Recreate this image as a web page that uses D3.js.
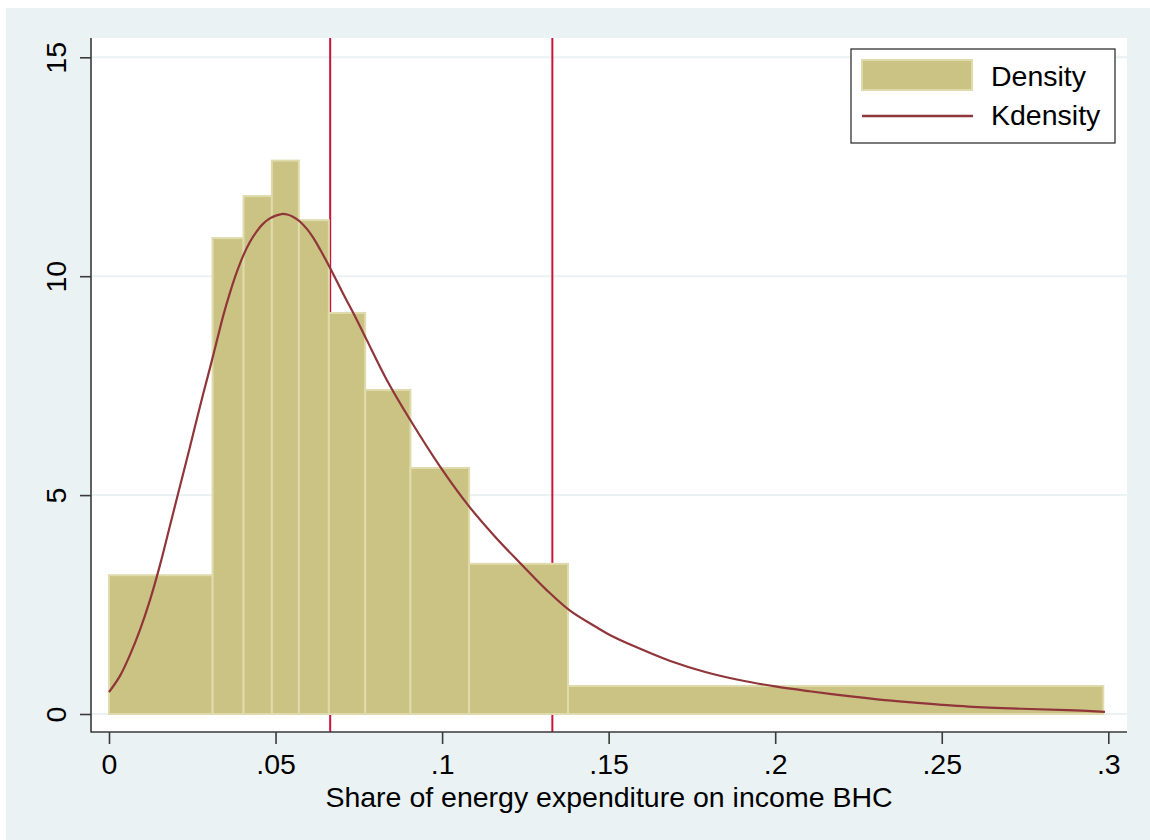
<!DOCTYPE html>
<html>
<head>
<meta charset="utf-8">
<script src="https://cdn.jsdelivr.net/npm/d3@7/dist/d3.min.js"></script>
<style>
  html, body { margin: 0; padding: 0; background: #ffffff; }
  svg { display: block; font-family: "Liberation Sans", Arial, sans-serif; }
</style>
</head>
<body>
<svg id="chart" width="1150" height="840"></svg>
<script>
// ---- Data ----
const binEdges = [0, 0.0311, 0.0404, 0.0489, 0.0570, 0.0660, 0.0769, 0.0905, 0.1081, 0.1378, 0.2985];
const binDensity = [3.17, 10.87, 11.83, 12.64, 11.28, 9.16, 7.40, 5.62, 3.43, 0.64];

const kdX = [0, 0.0033, 0.0063, 0.0093, 0.0123, 0.0153, 0.0183, 0.0213, 0.0243, 0.0273, 0.0303, 0.0323,
             0.0343, 0.0363, 0.0383, 0.0403, 0.0423, 0.0443, 0.0463, 0.0483, 0.0503, 0.0518, 0.0535,
             0.0552, 0.0573, 0.0594, 0.0613, 0.0633, 0.0663, 0.0703, 0.0744, 0.0774, 0.0834, 0.0904,
             0.0994, 0.1078, 0.1159, 0.1234, 0.1314, 0.1384, 0.1464, 0.1505, 0.1579, 0.1685, 0.1790,
             0.1896, 0.2000, 0.2103, 0.2208, 0.2313, 0.2418, 0.2500, 0.2580, 0.2740, 0.2877, 0.2990];
const kdY = [0.50, 0.87, 1.35, 1.92, 2.60, 3.40, 4.30, 5.20, 6.10, 7.02, 7.90, 8.50,
             9.10, 9.62, 10.08, 10.47, 10.78, 11.02, 11.20, 11.32, 11.39, 11.42, 11.41,
             11.36, 11.25, 11.08, 10.88, 10.62, 10.20, 9.60, 9.00, 8.54, 7.63, 6.72,
             5.65, 4.77, 4.05, 3.45, 2.83, 2.36, 1.98, 1.80, 1.54, 1.21, 0.96,
             0.77, 0.63, 0.52, 0.42, 0.33, 0.26, 0.21, 0.17, 0.12, 0.09, 0.05];

const refLines = [0.0664, 0.1331];

const xTicks = [0, 0.05, 0.1, 0.15, 0.2, 0.25, 0.3];
const xTickLabels = ["0", ".05", ".1", ".15", ".2", ".25", ".3"];
const yTicks = [0, 5, 10, 15];
const yTickLabels = ["0", "5", "10", "15"];
const legendLabels = ["Density", "Kdensity"];
const xTitle = "Share of energy expenditure on income BHC";

// ---- Styles ----
const bgColor = "#eaf2f3";
const barFill = "#cac383";
const barStroke = "#dfdbac";
const curveColor = "#903539";
const refColor = "#c8143c";
const axisColor = "#3a3a3a";
const fontSize = 28.5;

const svg = d3.select("#chart");
const plot = { left: 91, right: 1127, top: 38, bottom: 732 };

const x = d3.scaleLinear().domain([0, 0.3]).range([109, 1108.3]);
const y = d3.scaleLinear().domain([0, 15]).range([714, 57.3]);

// background
svg.append("rect").attr("x", 6).attr("y", 8).attr("width", 1150 - 6).attr("height", 840 - 8).attr("fill", bgColor);
svg.append("rect").attr("x", plot.left).attr("y", plot.top)
  .attr("width", plot.right - plot.left).attr("height", plot.bottom - plot.top).attr("fill", "#ffffff");

// grid
svg.append("g").selectAll("line").data(yTicks).join("line")
  .attr("x1", plot.left).attr("x2", plot.right)
  .attr("y1", d => y(d)).attr("y2", d => y(d))
  .attr("stroke", bgColor).attr("stroke-width", 2);

// reference lines
svg.append("g").selectAll("line").data(refLines).join("line")
  .attr("x1", d => x(d)).attr("x2", d => x(d))
  .attr("y1", plot.top).attr("y2", plot.bottom)
  .attr("stroke", refColor).attr("stroke-width", 2);

// bars
const bins = binDensity.map((v, i) => ({ x0: binEdges[i], x1: binEdges[i + 1], v }));
svg.append("g").selectAll("rect").data(bins).join("rect")
  .attr("x", d => x(d.x0))
  .attr("y", d => y(d.v))
  .attr("width", d => x(d.x1) - x(d.x0))
  .attr("height", d => y(0) - y(d.v))
  .attr("fill", barFill)
  .attr("stroke", barStroke)
  .attr("stroke-width", 2);

// kdensity curve
const kd = kdX.map((v, i) => [v, kdY[i]]);
svg.append("path").datum(kd)
  .attr("d", d3.line().x(d => x(d[0])).y(d => y(d[1])).curve(d3.curveCatmullRom))
  .attr("fill", "none").attr("stroke", curveColor).attr("stroke-width", 2.2);

// axes lines
svg.append("line").attr("x1", plot.left).attr("x2", plot.left).attr("y1", plot.top).attr("y2", plot.bottom + 0.5)
  .attr("stroke", axisColor).attr("stroke-width", 1.6);
svg.append("line").attr("x1", plot.left).attr("x2", plot.right).attr("y1", plot.bottom).attr("y2", plot.bottom)
  .attr("stroke", axisColor).attr("stroke-width", 1.6);

// x axis
const xAxis = svg.append("g").attr("transform", `translate(0,${plot.bottom})`)
  .call(d3.axisBottom(x).tickValues(xTicks).tickFormat((d, i) => xTickLabels[i]).tickSize(12).tickSizeOuter(0));
xAxis.select(".domain").remove();
xAxis.selectAll(".tick line").attr("stroke", axisColor).attr("stroke-width", 1.6);
xAxis.selectAll(".tick text").attr("y", 42).attr("dy", null)
  .attr("font-size", fontSize).attr("font-family", "Liberation Sans, Arial, sans-serif").attr("fill", "#000");

// y axis
const yAxis = svg.append("g").attr("transform", `translate(${plot.left},0)`)
  .call(d3.axisLeft(y).tickValues(yTicks).tickFormat((d, i) => yTickLabels[i]).tickSize(11).tickSizeOuter(0));
yAxis.select(".domain").remove();
yAxis.selectAll(".tick line").attr("stroke", axisColor).attr("stroke-width", 1.6);
yAxis.selectAll(".tick text")
  .attr("transform", "rotate(-90)")
  .attr("x", 0).attr("y", -25).attr("dy", null)
  .attr("text-anchor", "middle")
  .attr("font-size", fontSize).attr("font-family", "Liberation Sans, Arial, sans-serif").attr("fill", "#000");

// x title
svg.append("text").attr("x", (plot.left + plot.right) / 2).attr("y", 807)
  .attr("text-anchor", "middle").attr("font-size", fontSize).attr("fill", "#000").text(xTitle);

// legend
const lg = svg.append("g");
lg.append("rect").attr("x", 851).attr("y", 49).attr("width", 264).attr("height", 94)
  .attr("fill", "#ffffff").attr("stroke", "#333").attr("stroke-width", 1.3);
lg.append("rect").attr("x", 862).attr("y", 60).attr("width", 110).attr("height", 30)
  .attr("fill", barFill).attr("stroke", barStroke).attr("stroke-width", 2);
lg.append("line").attr("x1", 862).attr("x2", 973).attr("y1", 116).attr("y2", 116)
  .attr("stroke", curveColor).attr("stroke-width", 2.5);
lg.selectAll("text").data(legendLabels).join("text")
  .attr("x", 991).attr("y", (d, i) => [86, 125][i])
  .attr("font-size", fontSize).attr("fill", "#000").text(d => d);
</script>
</body>
</html>
